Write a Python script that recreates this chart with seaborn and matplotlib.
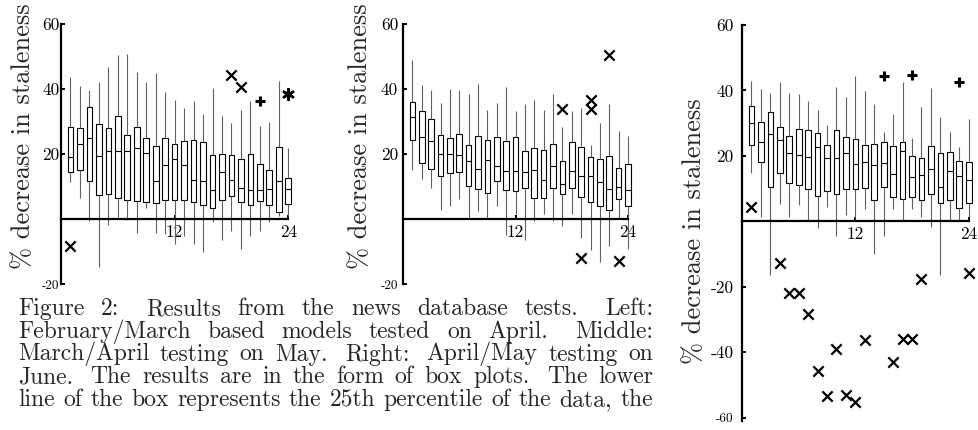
import matplotlib
matplotlib.use("Agg")
import matplotlib.pyplot as plt
import seaborn as sns
import pandas as pd

# hour-ahead horizon of each model (x position of every box)
hours = list(range(1, 25))

# Left: February/March based models tested on April
left_lo = [11.4, 6.4, -0.5, -14.9, -1.8, 0.3, -0.3, -4.2, 3.3, -4.4, -4.6, -7.7,
           -5.3, -7.8, -10.0, -0.8, -6.4, -3.7, -9.2, -5.3, -3.8, -1.0, 0.8, 0.8]
left_q1 = [14.6, 15.2, 11.6, 7.3, 7.7, 6.6, 5.8, 5.6, 5.3, 4.9, 5.7, 5.7,
           5.9, 5.2, 4.2, 3.5, 5.7, 7.1, 5.1, 4.2, 5.6, 4.2, 2.3, 4.5]
left_med = [19.2, 23.0, 25.0, 19.4, 21.0, 21.0, 21.0, 21.8, 20.2, 11.6, 16.6, 18.6,
            16.5, 12.1, 11.6, 8.9, 14.5, 12.0, 9.4, 8.8, 8.8, 9.3, 11.8, 9.1]
left_q3 = [28.3, 28.0, 34.4, 29.2, 28.0, 31.6, 25.8, 28.4, 25.0, 22.6, 24.8, 23.1,
           23.9, 24.3, 23.8, 19.8, 20.0, 19.8, 18.5, 20.0, 17.0, 15.2, 22.2, 12.7]
left_hi = [43.6, 40.8, 39.8, 42.3, 46.9, 50.5, 50.7, 45.2, 42.1, 44.8, 39.0, 36.6,
           34.2, 36.3, 32.4, 40.3, 31.7, 29.6, 33.6, 36.4, 28.7, 29.8, 42.6, 21.8]
left_out_hour = [1, 18, 19, 21, 24]
left_out_val = [-8.2, 44.4, 40.6, 36.4, 38.6]
left_out_mark = ["x", "x", "x", "+", "*"]

# Middle: March/April testing on May
mid_lo = [15.0, 12.4, 9.4, 2.8, 4.1, 6.1, 0.3, 2.4, 0.0, 4.0, -4.9, 1.5,
          -6.4, -0.7, 1.4, -0.7, -2.3, 1.5, -5.8, -9.4, -13.1, -8.4, 0.0, -9.2]
mid_q1 = [24.3, 17.3, 15.3, 13.2, 14.2, 14.4, 10.2, 9.1, 8.0, 11.6, 8.9, 8.5,
          9.5, 6.4, 6.5, 9.4, 7.6, 9.5, 6.9, 5.2, 3.9, 2.9, 6.3, 4.1]
mid_med = [31.4, 25.2, 24.1, 19.9, 20.1, 19.8, 18.0, 15.3, 18.2, 16.4, 14.8, 14.9,
           14.4, 15.0, 12.1, 16.2, 10.9, 14.9, 13.1, 13.1, 11.5, 9.3, 10.0, 8.9]
mid_q3 = [35.9, 33.2, 30.8, 25.8, 24.9, 26.1, 22.9, 25.4, 24.4, 25.2, 23.9, 25.1,
          21.0, 21.9, 21.3, 23.2, 17.7, 23.6, 22.2, 19.2, 18.4, 19.5, 15.8, 16.9]
mid_hi = [48.9, 41.2, 39.7, 35.6, 39.9, 39.8, 38.4, 41.4, 33.6, 35.8, 40.5, 33.3,
          35.3, 36.6, 33.6, 38.5, 28.3, 33.1, 34.2, 22.7, 29.5, 35.3, 27.2, 25.6]
mid_out_hour = [17, 19, 20, 20, 22, 23]
mid_out_val = [34.0, -11.9, 36.7, 33.7, 50.4, -13.0]
mid_out_mark = ["x", "x", "x", "x", "x", "x"]

# Right: April/May testing on June
right_lo = [14.8, 1.4, -16.3, 5.3, 1.4, 4.9, 0.3, -2.0, 4.5, -4.6, 1.9, 1.0,
            3.9, -9.9, -4.4, 3.9, 0.5, 3.8, 1.2, -1.8, -16.4, 0.5, 0.1, 1.3]
right_q1 = [23.3, 18.0, 10.4, 14.8, 11.7, 11.2, 9.9, 7.8, 9.4, 8.5, 9.9, 9.9,
            10.2, 6.6, 10.6, 7.5, 6.8, 7.4, 6.4, 8.3, 5.6, 6.4, 4.0, 5.6]
right_med = [30.0, 24.3, 26.6, 25.0, 20.8, 20.2, 19.6, 22.8, 19.3, 19.4, 21.0, 17.4,
             18.2, 17.2, 17.9, 14.5, 21.5, 13.7, 14.3, 16.0, 10.4, 15.4, 14.0, 12.7]
right_q3 = [35.2, 30.5, 33.4, 28.8, 26.0, 28.1, 28.0, 26.9, 23.2, 28.0, 25.9, 25.1,
            23.2, 23.7, 24.1, 22.9, 24.4, 19.9, 19.3, 23.0, 20.8, 21.2, 18.3, 18.1]
right_hi = [42.9, 40.4, 39.2, 42.7, 39.1, 38.8, 36.7, 33.9, 29.3, 41.2, 38.0, 44.5,
            39.9, 36.0, 27.2, 32.7, 42.7, 25.5, 34.9, 40.6, 32.0, 27.4, 22.8, 31.2]
right_out_hour = [1, 4, 5, 6, 7, 8, 9, 10, 11, 12, 13, 15, 16, 17, 18, 18, 19, 23, 24]
right_out_val = [4.4, -12.7, -21.9, -21.9, -28.2, -45.8, -53.4, -39.0, -53.2, -55.2,
                 -36.4, 44.5, -42.9, -35.8, 44.8, -35.9, -17.6, 42.5, -15.8]
right_out_mark = ["x", "x", "x", "x", "x", "x", "x", "x", "x", "x",
                  "x", "+", "x", "x", "+", "x", "x", "+", "x"]

caption_lines = [
    "Figure 2: Results from the news database tests. Left:",
    "February/March based models tested on April. Middle:",
    "March/April testing on May. Right: April/May testing on",
    "June. The results are in the form of box plots. The lower",
    "line of the box represents the 25th percentile of the data, the",
]

sns.set_style("ticks")
plt.rcParams["font.family"] = ["cmr10", "DejaVu Serif"]
plt.rcParams["axes.unicode_minus"] = False

W, H = 979, 430
fig = plt.figure(figsize=(W / 100, H / 100), dpi=100)

MARKERS = {"x": ("x", 55, 1.6), "+": ("+", 60, 2.2), "*": ((6, 2, 0), 60, 1.8)}


def px_axes(left, top, bottom, width):
    return fig.add_axes([left / W, 1 - bottom / H, width / W, (bottom - top) / H])


def draw_panel(ax, lo, q1, med, q3, hi, out_hour, out_val, out_mark):
    # five numbers per box -> quartiles come out exactly, whiskers at min/max
    rows = pd.DataFrame({
        "hour": [h for h in hours for _ in range(5)],
        "value": [v for stats in zip(lo, q1, med, q3, hi) for v in stats],
    })
    sns.boxplot(data=rows, x="hour", y="value", orient="x", native_scale=True,
                whis=(0, 100), width=0.6, showcaps=False, showfliers=False,
                color="white", linecolor="black", linewidth=0.8,
                whiskerprops={"color": "#606060"}, ax=ax)
    outliers = pd.DataFrame({"hour": out_hour, "value": out_val, "mark": out_mark})
    for mark, grp in outliers.groupby("mark"):
        m, size, lw = MARKERS[mark]
        sns.scatterplot(data=grp, x="hour", y="value", marker=m, s=size,
                        color="black", linewidth=lw, clip_on=False, zorder=5, ax=ax)
    ax.set_xlim(0, 24.5)
    ax.set_xlabel("")
    ax.set_ylabel("% decrease in staleness", fontsize=19)
    ax.yaxis.label.set_verticalalignment("center")
    ax.spines[["top", "right"]].set_visible(False)
    ax.spines["bottom"].set_position(("data", 0))
    ax.spines["bottom"].set_bounds(0, 24)
    for side in ("left", "bottom"):
        ax.spines[side].set_linewidth(1.6)
        ax.spines[side].set_color("black")
    ax.set_xticks([12, 24], ["12", "24"])
    ax.tick_params(direction="in", length=3, width=1.4, colors="black")
    ax.tick_params(axis="x", labelsize=12.5, pad=4)


# Left panel
ax1 = px_axes(61, 24, 284, 232)
draw_panel(ax1, left_lo, left_q1, left_med, left_q3, left_hi,
           left_out_hour, left_out_val, left_out_mark)
ax1.set_ylim(-20, 60)
ax1.spines["left"].set_bounds(-20, 60)
ax1.set_yticks([60, 40, 20, -20], ["60", "40", "20", "-20"])
ax1.tick_params(axis="y", labelsize=12.5, pad=1)
ax1.yaxis.set_label_coords(-0.164, 0.569)

# Middle panel
ax2 = px_axes(403, 24, 284, 229.7)
draw_panel(ax2, mid_lo, mid_q1, mid_med, mid_q3, mid_hi,
           mid_out_hour, mid_out_val, mid_out_mark)
ax2.set_ylim(-20, 60)
ax2.spines["left"].set_bounds(-20, 60)
ax2.set_yticks([60, 40, 20, -20], ["60", "40", "20", "-20"])
ax2.tick_params(axis="y", labelsize=12.5, pad=3.5)
ax2.yaxis.set_label_coords(-0.187, 0.569)

# Right panel
ax3 = px_axes(742, 25, 417.7, 231.4)
draw_panel(ax3, right_lo, right_q1, right_med, right_q3, right_hi,
           right_out_hour, right_out_val, right_out_mark)
ax3.set_ylim(-60, 60)
ax3.spines["left"].set_bounds(-61, 60)
ax3.set_yticks([60, 40, 20, -20, -40, -60], ["60", "40", "20", "-20", "-40", "-60"])
ax3.tick_params(axis="y", labelsize=12.5, pad=6)
ax3.yaxis.set_label_coords(-0.205, 0.475)

# the lowest tick label of each panel is set smaller in the scan
for ax, small in ((ax1, "-20"), (ax2, "-20"), (ax3, "-60")):
    for lab in ax.get_yticklabels():
        if lab.get_text() == small:
            lab.set_fontsize(9.5)

# justified caption, word by word (a bit more room after sentence ends)
cap_left, cap_right = 18, 653
renderer = fig.canvas.get_renderer()
for i, line in enumerate(caption_lines):
    y = 1 - (315 + i * 22.75) / H
    words = line.split()
    texts = [fig.text(0, y, w, fontsize=17, va="baseline", ha="left") for w in words]
    widths = [t.get_window_extent(renderer).width for t in texts]
    weights = [1.6 if w[-1] in ".:" else 1.0 for w in words[:-1]]
    unit = (cap_right - cap_left - sum(widths)) / sum(weights)
    x = cap_left
    for j, (t, w) in enumerate(zip(texts, widths)):
        t.set_x(x / W)
        if j < len(weights):
            x += w + unit * weights[j]

fig.savefig("out.png", dpi=100)
